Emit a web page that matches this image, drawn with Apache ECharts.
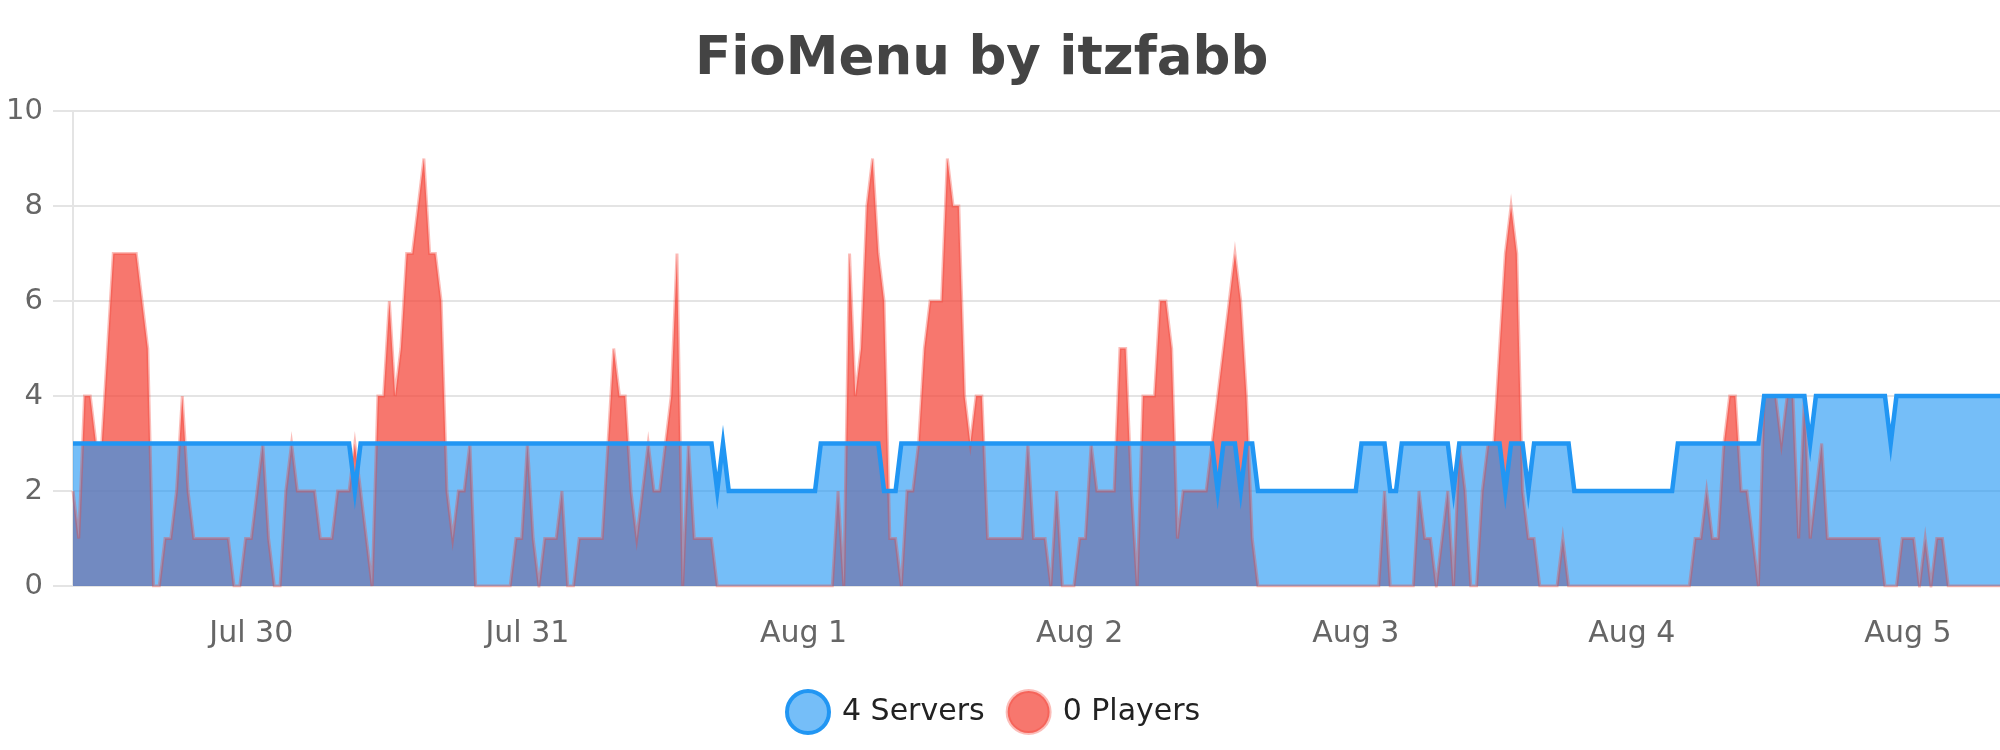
<!DOCTYPE html>
<html>
<head>
  <meta charset="utf-8">
  <title>FioMenu by itzfabb</title>
  <script src="https://fastly.jsdelivr.net/npm/echarts@6/dist/echarts.min.js"></script>
  <style>
    html, body { margin: 0; padding: 0; background: #fff; }
    #main { width: 2000px; height: 750px; }
  </style>
</head>
<body>
<div id="main"></div>
<script type="text/javascript">
  // samples every 30 min, from Jul 29 08:30 to Aug 5 08:00
  const startTime = new Date(2024, 6, 29, 8, 30).getTime();
  const stepMs = 30 * 60 * 1000;
  const monthNames = ['Jan', 'Feb', 'Mar', 'Apr', 'May', 'Jun', 'Jul', 'Aug', 'Sep', 'Oct', 'Nov', 'Dec'];

  const players = [
    2,1,4,4,3,3,5,7,7,7,7,7,6,5,0,0,1,1,2,4,2,1,1,1,
    1,1,1,1,0,0,1,1,2,3,1,0,0,2,3,2,2,2,2,1,1,1,2,2,
    2,3,2,1,0,4,4,6,4,5,7,7,8,9,7,7,6,2,1,2,2,3,0,0,
    0,0,0,0,0,1,1,3,1,0,1,1,1,2,0,0,1,1,1,1,1,3,5,4,
    4,2,1,2,3,2,2,3,4,7,0,3,1,1,1,1,0,0,0,0,0,0,0,0,
    0,0,0,0,0,0,0,0,0,0,0,0,0,2,0,7,4,5,8,9,7,6,1,1,
    0,2,2,3,5,6,6,6,9,8,8,4,3,4,4,1,1,1,1,1,1,1,3,1,
    1,1,0,2,0,0,0,1,1,3,2,2,2,2,5,5,2,0,4,4,4,6,6,5,
    1,2,2,2,2,2,3,4,5,6,7,6,4,1,0,0,0,0,0,0,0,0,0,0,
    0,0,0,0,0,0,0,0,0,0,0,0,2,0,0,0,0,0,2,1,1,0,1,2,
    0,3,2,0,0,2,3,3,5,7,8,7,2,1,1,0,0,0,0,1,0,0,0,0,
    0,0,0,0,0,0,0,0,0,0,0,0,0,0,0,0,0,0,1,1,2,1,1,3,
    4,4,2,2,1,0,4,4,4,3,4,4,1,4,1,2,3,1,1,1,1,1,1,1,
    1,1,1,0,0,0,1,1,1,0,1,0,1,1,0,0,0,0,0,0,0,0,0,0
  ];

  const servers = [
    3,3,3,3,3,3,3,3,3,3,3,3,3,3,3,3,3,3,3,3,3,3,3,3,
    3,3,3,3,3,3,3,3,3,3,3,3,3,3,3,3,3,3,3,3,3,3,3,3,
    3,2,3,3,3,3,3,3,3,3,3,3,3,3,3,3,3,3,3,3,3,3,3,3,
    3,3,3,3,3,3,3,3,3,3,3,3,3,3,3,3,3,3,3,3,3,3,3,3,
    3,3,3,3,3,3,3,3,3,3,3,3,3,3,3,3,2,3,2,2,2,2,2,2,
    2,2,2,2,2,2,2,2,2,2,3,3,3,3,3,3,3,3,3,3,3,2,2,2,
    3,3,3,3,3,3,3,3,3,3,3,3,3,3,3,3,3,3,3,3,3,3,3,3,
    3,3,3,3,3,3,3,3,3,3,3,3,3,3,3,3,3,3,3,3,3,3,3,3,
    3,3,3,3,3,3,3,2,3,3,3,2,3,3,2,2,2,2,2,2,2,2,2,2,
    2,2,2,2,2,2,2,2,3,3,3,3,3,2,2,3,3,3,3,3,3,3,3,3,
    2,3,3,3,3,3,3,3,3,2,3,3,3,2,3,3,3,3,3,3,3,2,2,2,
    2,2,2,2,2,2,2,2,2,2,2,2,2,2,2,3,3,3,3,3,3,3,3,3,
    3,3,3,3,3,3,4,4,4,4,4,4,4,4,3,4,4,4,4,4,4,4,4,4,
    4,4,4,4,3,4,4,4,4,4,4,4,4,4,4,4,4,4,4,4,4,4,4,4
  ];

  const times = players.map((v, i) => startTime + i * stepMs);
  const endTime = times[times.length - 1];

  const serversName = servers[servers.length - 1] + ' Servers';
  const playersName = players[players.length - 1] + ' Players';

  const fontFamily = 'DejaVu Sans';

  var myChart = echarts.init(document.getElementById('main'));
  var option = {
    animation: false,
    backgroundColor: '#fff',
    title: {
      text: 'FioMenu by itzfabb',
      left: 695,
      top: 34,
      padding: 0,
      textStyle: {
        fontFamily: fontFamily,
        fontSize: 53,
        fontWeight: 'bold',
        color: '#444'
      }
    },
    legend: {
      bottom: 15,
      left: 785,
      padding: 0,
      itemWidth: 42,
      itemHeight: 42,
      itemGap: 21,
      textStyle: {
        fontFamily: fontFamily,
        fontSize: 30,
        color: '#222',
        padding: [0, 0, 0, 8]
      },
      data: [
        {
          name: serversName,
          icon: 'circle',
          itemStyle: { color: 'rgba(33,150,243,0.62)', borderColor: '#2196f3', borderWidth: 4 }
        },
        {
          name: playersName,
          icon: 'circle',
          itemStyle: { color: 'rgba(244,67,54,0.72)', borderColor: 'rgba(244,67,54,0.35)', borderWidth: 4 }
        }
      ]
    },
    grid: {
      left: 73,
      right: 0,
      top: 111,
      bottom: 164
    },
    xAxis: {
      type: 'time',
      min: startTime,
      max: endTime,
      minInterval: 24 * 3600 * 1000,
      maxInterval: 24 * 3600 * 1000,
      axisLine: { show: false },
      axisTick: { show: false },
      splitLine: { show: false },
      axisLabel: {
        fontFamily: fontFamily,
        fontSize: 30,
        color: '#666',
        margin: 33,
        showMinLabel: false,
        showMaxLabel: false,
        formatter: function (value) {
          var d = new Date(value);
          return monthNames[d.getMonth()] + ' ' + d.getDate();
        }
      }
    },
    yAxis: {
      type: 'value',
      min: 0,
      max: 10,
      interval: 2,
      axisLine: { show: true, lineStyle: { color: '#e4e4e4', width: 2 } },
      axisTick: { show: true, length: 20, lineStyle: { color: '#e4e4e4', width: 2 } },
      splitLine: { show: true, lineStyle: { color: '#e4e4e4', width: 2 } },
      axisLabel: {
        fontFamily: fontFamily,
        fontSize: 29,
        color: '#666',
        margin: 30
      }
    },
    series: [
      {
        name: playersName,
        type: 'line',
        symbol: 'none',
        data: times.map((t, i) => [t, players[i]]),
        lineStyle: { color: 'rgba(244,67,54,0.35)', width: 3, join: 'miter', miterLimit: 10 },
        itemStyle: { color: 'rgba(244,67,54,0.72)' },
        areaStyle: { color: 'rgba(244,67,54,0.72)', opacity: 1 }
      },
      {
        name: serversName,
        type: 'line',
        symbol: 'none',
        data: times.map((t, i) => [t, servers[i]]),
        lineStyle: { color: '#2196f3', width: 4.5, join: 'miter', miterLimit: 10 },
        itemStyle: { color: '#2196f3' },
        areaStyle: { color: 'rgba(33,150,243,0.62)', opacity: 1 }
      }
    ]
  };

  myChart.setOption(option);
</script>
</body>
</html>
